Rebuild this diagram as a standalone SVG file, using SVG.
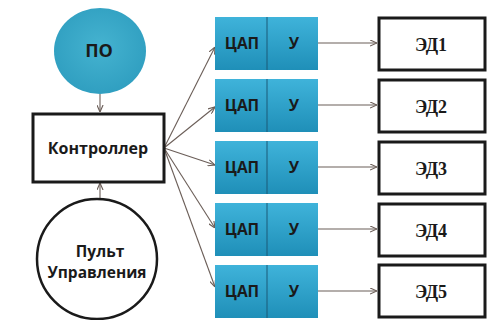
<svg xmlns="http://www.w3.org/2000/svg" width="503" height="320" viewBox="0 0 503 320">
  <defs>
    <linearGradient id="blk" x1="0" y1="0" x2="0" y2="1">
      <stop offset="0" stop-color="#3fb3da"/>
      <stop offset="1" stop-color="#1f8fb8"/>
    </linearGradient>
    <radialGradient id="ball" cx="0.5" cy="0.45" r="0.6">
      <stop offset="0" stop-color="#45b3d0"/>
      <stop offset="1" stop-color="#2e9dbf"/>
    </radialGradient>
    <marker id="arr" viewBox="0 0 8 8" refX="8" refY="4" markerWidth="7" markerHeight="7" orient="auto" markerUnits="userSpaceOnUse">
      <path d="M0,0.5 L8,4 L0,7.5" fill="none" stroke="#6b5e58" stroke-width="1.3"/>
    </marker>
    <style>
      .sans { font-family: "Open Sans", "Noto Sans", "Liberation Sans", sans-serif; font-weight: bold; fill: #1a1a1a; }
      .serif { font-family: "Liberation Serif", "DejaVu Serif", serif; font-weight: bold; fill: #1a1a1a; font-size: 18px; }
      .dac { font-size: 15.5px; }
      .box { fill: #ffffff; stroke: #1a1a1a; stroke-width: 3; }
      .blk { fill: url(#blk); }
      .div { stroke: #1b5a78; stroke-width: 1; }
      .con { stroke: #6b5e58; stroke-width: 1.1; fill: none; marker-end: url(#arr); }
    </style>
  </defs>
  <rect width="503" height="320" fill="#ffffff"/>

  <g id="connectors">
    <line class="con" x1="100" y1="94" x2="100" y2="112"/>
    <line class="con" x1="100" y1="199" x2="100" y2="183"/>
    <line class="con" x1="164" y1="148" x2="215" y2="47"/>
    <line class="con" x1="164" y1="148" x2="215" y2="107"/>
    <line class="con" x1="164" y1="148" x2="215" y2="165"/>
    <line class="con" x1="164" y1="148" x2="215" y2="228"/>
    <line class="con" x1="164" y1="148" x2="215" y2="287"/>
    <line class="con" x1="318" y1="43" x2="377" y2="43"/>
    <line class="con" x1="318" y1="105" x2="377" y2="105"/>
    <line class="con" x1="318" y1="167" x2="377" y2="167"/>
    <line class="con" x1="318" y1="229" x2="377" y2="229"/>
    <line class="con" x1="318" y1="291" x2="377" y2="291"/>
  </g>

  <g id="po">
    <ellipse cx="100" cy="51" rx="46" ry="43" fill="url(#ball)"/>
    <text class="sans" x="99" y="57" font-size="18" text-anchor="middle">ПО</text>
  </g>

  <g id="controller">
    <rect class="box" x="33" y="114" width="131" height="68"/>
    <text class="sans" x="98" y="154" font-size="16" text-anchor="middle">Контроллер</text>
  </g>

  <g id="pult">
    <circle cx="97" cy="259" r="60" fill="#ffffff" stroke="#1a1a1a" stroke-width="2.5"/>
    <text class="sans" x="100" y="257" font-size="15.5" text-anchor="middle">Пульт</text>
    <text class="sans" x="97" y="278" font-size="15.5" text-anchor="middle">Управления</text>
  </g>

  <g id="dac1">
    <rect class="blk" x="215" y="17" width="103" height="53"/>
    <line class="div" x1="267" y1="17" x2="267" y2="70"/>
    <text class="sans dac" x="242" y="49" text-anchor="middle">ЦАП</text>
    <text class="sans dac" x="294" y="49" text-anchor="middle">У</text>
  </g>
  <g id="dac2">
    <rect class="blk" x="215" y="79" width="103" height="53"/>
    <line class="div" x1="267" y1="79" x2="267" y2="132"/>
    <text class="sans dac" x="242" y="111" text-anchor="middle">ЦАП</text>
    <text class="sans dac" x="294" y="111" text-anchor="middle">У</text>
  </g>
  <g id="dac3">
    <rect class="blk" x="215" y="141" width="103" height="53"/>
    <line class="div" x1="267" y1="141" x2="267" y2="194"/>
    <text class="sans dac" x="242" y="173" text-anchor="middle">ЦАП</text>
    <text class="sans dac" x="294" y="173" text-anchor="middle">У</text>
  </g>
  <g id="dac4">
    <rect class="blk" x="215" y="203" width="103" height="53"/>
    <line class="div" x1="267" y1="203" x2="267" y2="256"/>
    <text class="sans dac" x="242" y="235" text-anchor="middle">ЦАП</text>
    <text class="sans dac" x="294" y="235" text-anchor="middle">У</text>
  </g>
  <g id="dac5">
    <rect class="blk" x="215" y="265" width="103" height="53"/>
    <line class="div" x1="267" y1="265" x2="267" y2="318"/>
    <text class="sans dac" x="242" y="297" text-anchor="middle">ЦАП</text>
    <text class="sans dac" x="294" y="297" text-anchor="middle">У</text>
  </g>

  <g id="ed1">
    <rect class="box" x="379" y="18" width="106" height="52"/>
    <text class="serif" x="431" y="51" text-anchor="middle">ЭД1</text>
  </g>
  <g id="ed2">
    <rect class="box" x="379" y="80" width="106" height="52"/>
    <text class="serif" x="431" y="113" text-anchor="middle">ЭД2</text>
  </g>
  <g id="ed3">
    <rect class="box" x="379" y="142" width="106" height="52"/>
    <text class="serif" x="431" y="175" text-anchor="middle">ЭД3</text>
  </g>
  <g id="ed4">
    <rect class="box" x="379" y="204" width="106" height="52"/>
    <text class="serif" x="431" y="237" text-anchor="middle">ЭД4</text>
  </g>
  <g id="ed5">
    <rect class="box" x="379" y="265" width="106" height="52"/>
    <text class="serif" x="431" y="298" text-anchor="middle">ЭД5</text>
  </g>
</svg>
